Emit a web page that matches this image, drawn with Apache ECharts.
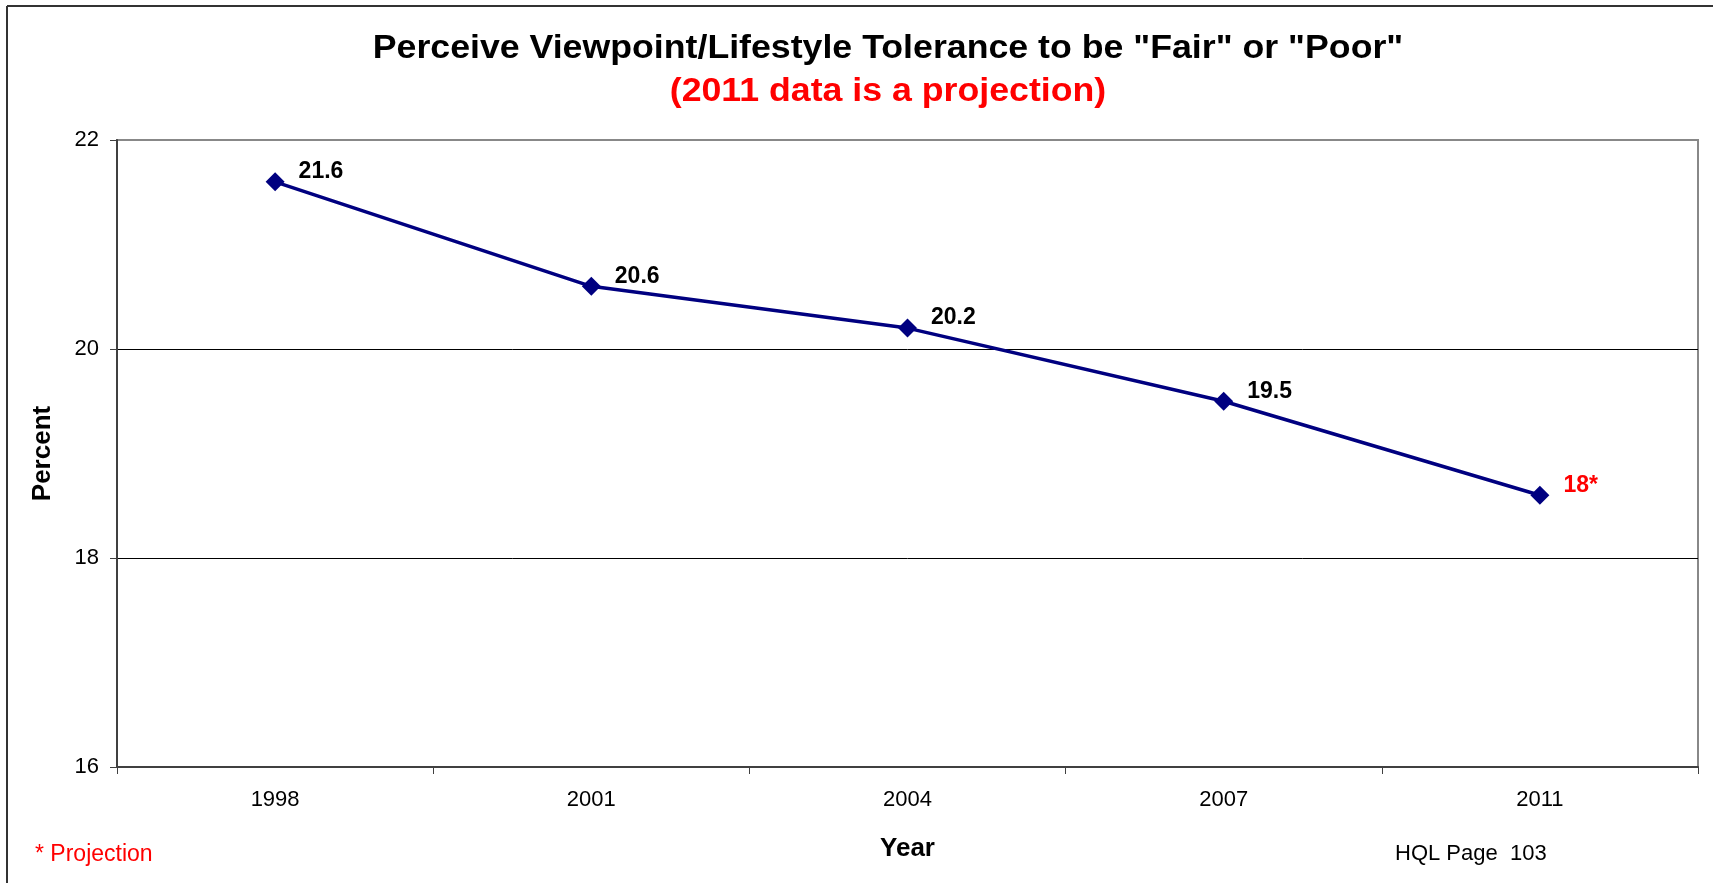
<!DOCTYPE html>
<html>
<head>
<meta charset="utf-8">
<script src="https://cdn.jsdelivr.net/npm/echarts@6/dist/echarts.min.js"></script>
<style>
html,body{margin:0;padding:0;background:#fff;}
#chart{width:1713px;height:883px;}
</style>
</head>
<body>
<div id="chart"></div>
<script>
const years = ['1998', '2001', '2004', '2007', '2011'];
const percents = [21.6, 20.6, 20.2, 19.5, 18.6];
const pointLabels = ['21.6', '20.6', '20.2', '19.5', '18*'];
const labelColors = ['#000000', '#000000', '#000000', '#000000', '#ff0000'];
const yTicks = { min: 16, max: 22, interval: 2 };

const FONT = '"Liberation Sans", Arial, sans-serif';
const chart = echarts.init(document.getElementById('chart'), null, { renderer: 'canvas' });

const seriesData = percents.map((v, i) => ({
  value: v,
  label: { formatter: pointLabels[i], color: labelColors[i] }
}));

chart.setOption({
  backgroundColor: '#ffffff',
  animation: false,
  grid: { left: 117, right: 15, top: 140, bottom: 116, show: true, borderColor: '#888888', borderWidth: 2, backgroundColor: 'transparent' },
  xAxis: {
    type: 'category',
    data: years,
    boundaryGap: true,
    name: 'Year',
    nameLocation: 'middle',
    nameGap: 69,
    nameTextStyle: { fontFamily: FONT, fontWeight: 'bold', fontSize: 26, color: '#000' },
    axisLine: { lineStyle: { color: '#404040', width: 2 } },
    axisTick: { show: true, length: 7, alignWithLabel: false, lineStyle: { color: '#404040', width: 1 } },
    axisLabel: { fontFamily: FONT, fontSize: 22, color: '#000', margin: 22 },
    splitLine: { show: false }
  },
  yAxis: {
    type: 'value',
    min: yTicks.min, max: yTicks.max, interval: yTicks.interval,
    name: 'Percent',
    nameLocation: 'middle',
    nameGap: 61,
    nameRotate: 90,
    nameTextStyle: { fontFamily: FONT, fontWeight: 'bold', fontSize: 26, color: '#000' },
    axisLine: { show: true, lineStyle: { color: '#404040', width: 2 } },
    axisTick: { show: true, length: 7, lineStyle: { color: '#404040', width: 1 } },
    axisLabel: { fontFamily: FONT, fontSize: 22, color: '#000', margin: 18 },
    splitLine: { show: true, lineStyle: { color: ['#404040', '#000000', '#000000', '#888888'], width: 1 } }
  },
  series: [{
    type: 'line',
    data: seriesData,
    symbol: 'diamond',
    symbolSize: 19,
    lineStyle: { color: '#000080', width: 3.5 },
    itemStyle: { color: '#000080' },
    label: {
      show: true,
      position: 'right',
      distance: 14,
      offset: [0, -10],
      fontFamily: FONT,
      fontWeight: 'bold',
      fontSize: 23
    },
    z: 5
  }],
  graphic: [
    { type: 'line', shape: { x1: 7, y1: 6, x2: 1713, y2: 6 }, style: { stroke: '#333', lineWidth: 2 } },
    { type: 'line', shape: { x1: 7, y1: 6, x2: 7, y2: 883 }, style: { stroke: '#333', lineWidth: 2 } },
    { type: 'text', x: 888, y: 49, scaleX: 1.05,
      style: { text: 'Perceive Viewpoint/Lifestyle Tolerance to be "Fair" or "Poor"', fontFamily: FONT, fontWeight: 'bold', fontSize: 34, fill: '#000', textAlign: 'center', textVerticalAlign: 'middle' } },
    { type: 'text', x: 888, y: 92, scaleX: 1.05,
      style: { text: '(2011 data is a projection)', fontFamily: FONT, fontWeight: 'bold', fontSize: 34, fill: '#ff0000', textAlign: 'center', textVerticalAlign: 'middle' } },
    { type: 'text', left: 35, top: 843, style: { text: '* Projection', fontFamily: FONT, fontSize: 23, fill: '#ff0000' } },
    { type: 'text', left: 1395, top: 843, style: { text: 'HQL Page  103', fontFamily: FONT, fontSize: 22, fill: '#000' } }
  ]
});
</script>
</body>
</html>
